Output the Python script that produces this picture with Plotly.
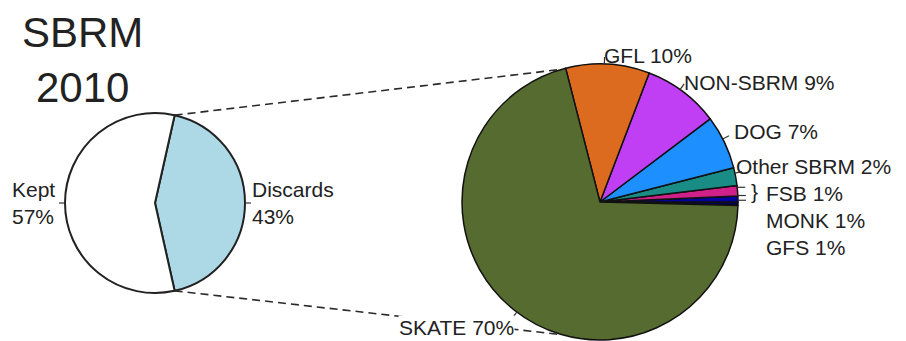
import math
import plotly.graph_objects as go

# data
split_labels = ['Discards', 'Kept']
split_values = [43, 57]
split_colors = ['#ADD8E6', '#FFFFFF']

species = ['GFS', 'MONK', 'FSB', 'Other SBRM', 'DOG', 'NON-SBRM', 'GFL', 'SKATE']
species_values = [0.4, 0.7, 1.2, 2.1, 6.3, 8.9, 9.8, 70.6]
species_pct = ['1%', '1%', '1%', '2%', '7%', '9%', '10%', '70%']
species_colors = ['#00005A', '#00009E', '#D0208A', '#1A8C86', '#1E8FFF',
                  '#C03FF5', '#DC6B1F', '#566B2F']

# the page body adds an 8px margin, so the figure is drawn 8px smaller
OFF = 8
W, H = 906 - OFF, 341 - OFF
FONT = 'Liberation Sans, Arial, sans-serif'
TXT = '#222222'

# pie geometry in window pixels: centre x, centre y, radius
LEFT = (155, 203, 90)
RIGHT = (600, 202, 138)


def px(x, y):
    return (x - OFF) / W, 1 - (y - OFF) / H


def domain(g):
    cx, cy, r = g
    x0, y0 = px(cx - r, cy + r)
    x1, y1 = px(cx + r, cy - r)
    return dict(x=[x0, x1], y=[y0, y1])


def edge(g, ang, extra=0):
    cx, cy, r = g
    a = math.radians(ang)
    return cx + (r + extra) * math.sin(a), cy - (r + extra) * math.cos(a)


# left pie: discards centred at 3 o'clock, clockwise
left_rot = 90 - split_values[0] / sum(split_values) * 360 / 2
# right pie: starts at 3 o'clock, counterclockwise
right_rot = 90

fig = go.Figure()
fig.add_trace(go.Pie(labels=split_labels, values=split_values, sort=False,
                     direction='clockwise', rotation=left_rot, domain=domain(LEFT),
                     marker=dict(colors=split_colors, line=dict(color='#222222', width=2)),
                     textinfo='none', hoverinfo='label+percent'))
fig.add_trace(go.Pie(labels=species, values=species_values, sort=False,
                     direction='counterclockwise', rotation=right_rot, domain=domain(RIGHT),
                     marker=dict(colors=species_colors, line=dict(color='#111111', width=1.5)),
                     textinfo='none', hoverinfo='label+percent'))

shapes = []


def line(p0, p1, dash=None, width=1.2, color='#333333'):
    x0, y0 = px(*p0)
    x1, y1 = px(*p1)
    shapes.append(dict(type='line', xref='paper', yref='paper', x0=x0, y0=y0, x1=x1, y1=y1,
                       line=dict(color=color, width=width, dash=dash), layer='above'))


# connector lines from discards slice to the breakdown pie
tot = sum(species_values)
left_top = left_rot
left_bot = left_rot + split_values[0] / sum(split_values) * 360
right_top = right_rot - (tot - species_values[-1]) / tot * 360
right_bot = 180 - right_top
line(edge(LEFT, left_top), edge(RIGHT, right_top), dash='8px,5px', width=1.6, color='#2a2a2a')
line(edge(LEFT, left_bot), edge(RIGHT, right_bot), dash='8px,5px', width=1.6, color='#2a2a2a')

# leader ticks
line(edge(LEFT, 270), edge(LEFT, 270, 6))
line(edge(LEFT, 90), edge(LEFT, 90, 6))
mids = []
acc = 0
for v in species_values:
    mids.append(right_rot - (acc + v / 2) / tot * 360)
    acc += v
for i, m in enumerate(mids):
    if i < 3:
        p = edge(RIGHT, m)
        line(p, (p[0] + 8, p[1]))
    else:
        line(edge(RIGHT, m), edge(RIGHT, m, 7))

annotations = []


def label(text, x, y, size=21, xanchor='left', yanchor='middle', align='left', bg=None):
    ax, ay = px(x, y)
    annotations.append(dict(text=text, x=ax, y=ay, xref='paper', yref='paper',
                            xanchor=xanchor, yanchor=yanchor, align=align, showarrow=False,
                            font=dict(family=FONT, size=size, color=TXT),
                            bgcolor=bg, borderpad=0))


label('SBRM<br>2010', 82, OFF, size=42, xanchor='center', yanchor='top', align='center')
label(f'{split_labels[1]}<br>{split_values[1]}%', 11, 203)
label(f'{split_labels[0]}<br>{split_values[0]}%', 251, 203)

pos = {
    'GFL': (603, 55), 'NON-SBRM': (683, 82), 'DOG': (733, 131),
    'Other SBRM': (735, 166), 'FSB': (765, 193), 'MONK': (765, 220),
    'GFS': (765, 247), 'SKATE': (398, 327),
}
for name, pct in zip(species, species_pct):
    x, y = pos[name]
    label(f'{name} {pct}', x, y, bg='white' if name == 'SKATE' else None)
label('}', 750, 191)

fig.update_layout(width=W, height=H, margin=dict(l=0, r=0, t=0, b=0),
                  paper_bgcolor='white', plot_bgcolor='white', showlegend=False,
                  shapes=shapes, annotations=annotations)

fig.write_html('out.html')
